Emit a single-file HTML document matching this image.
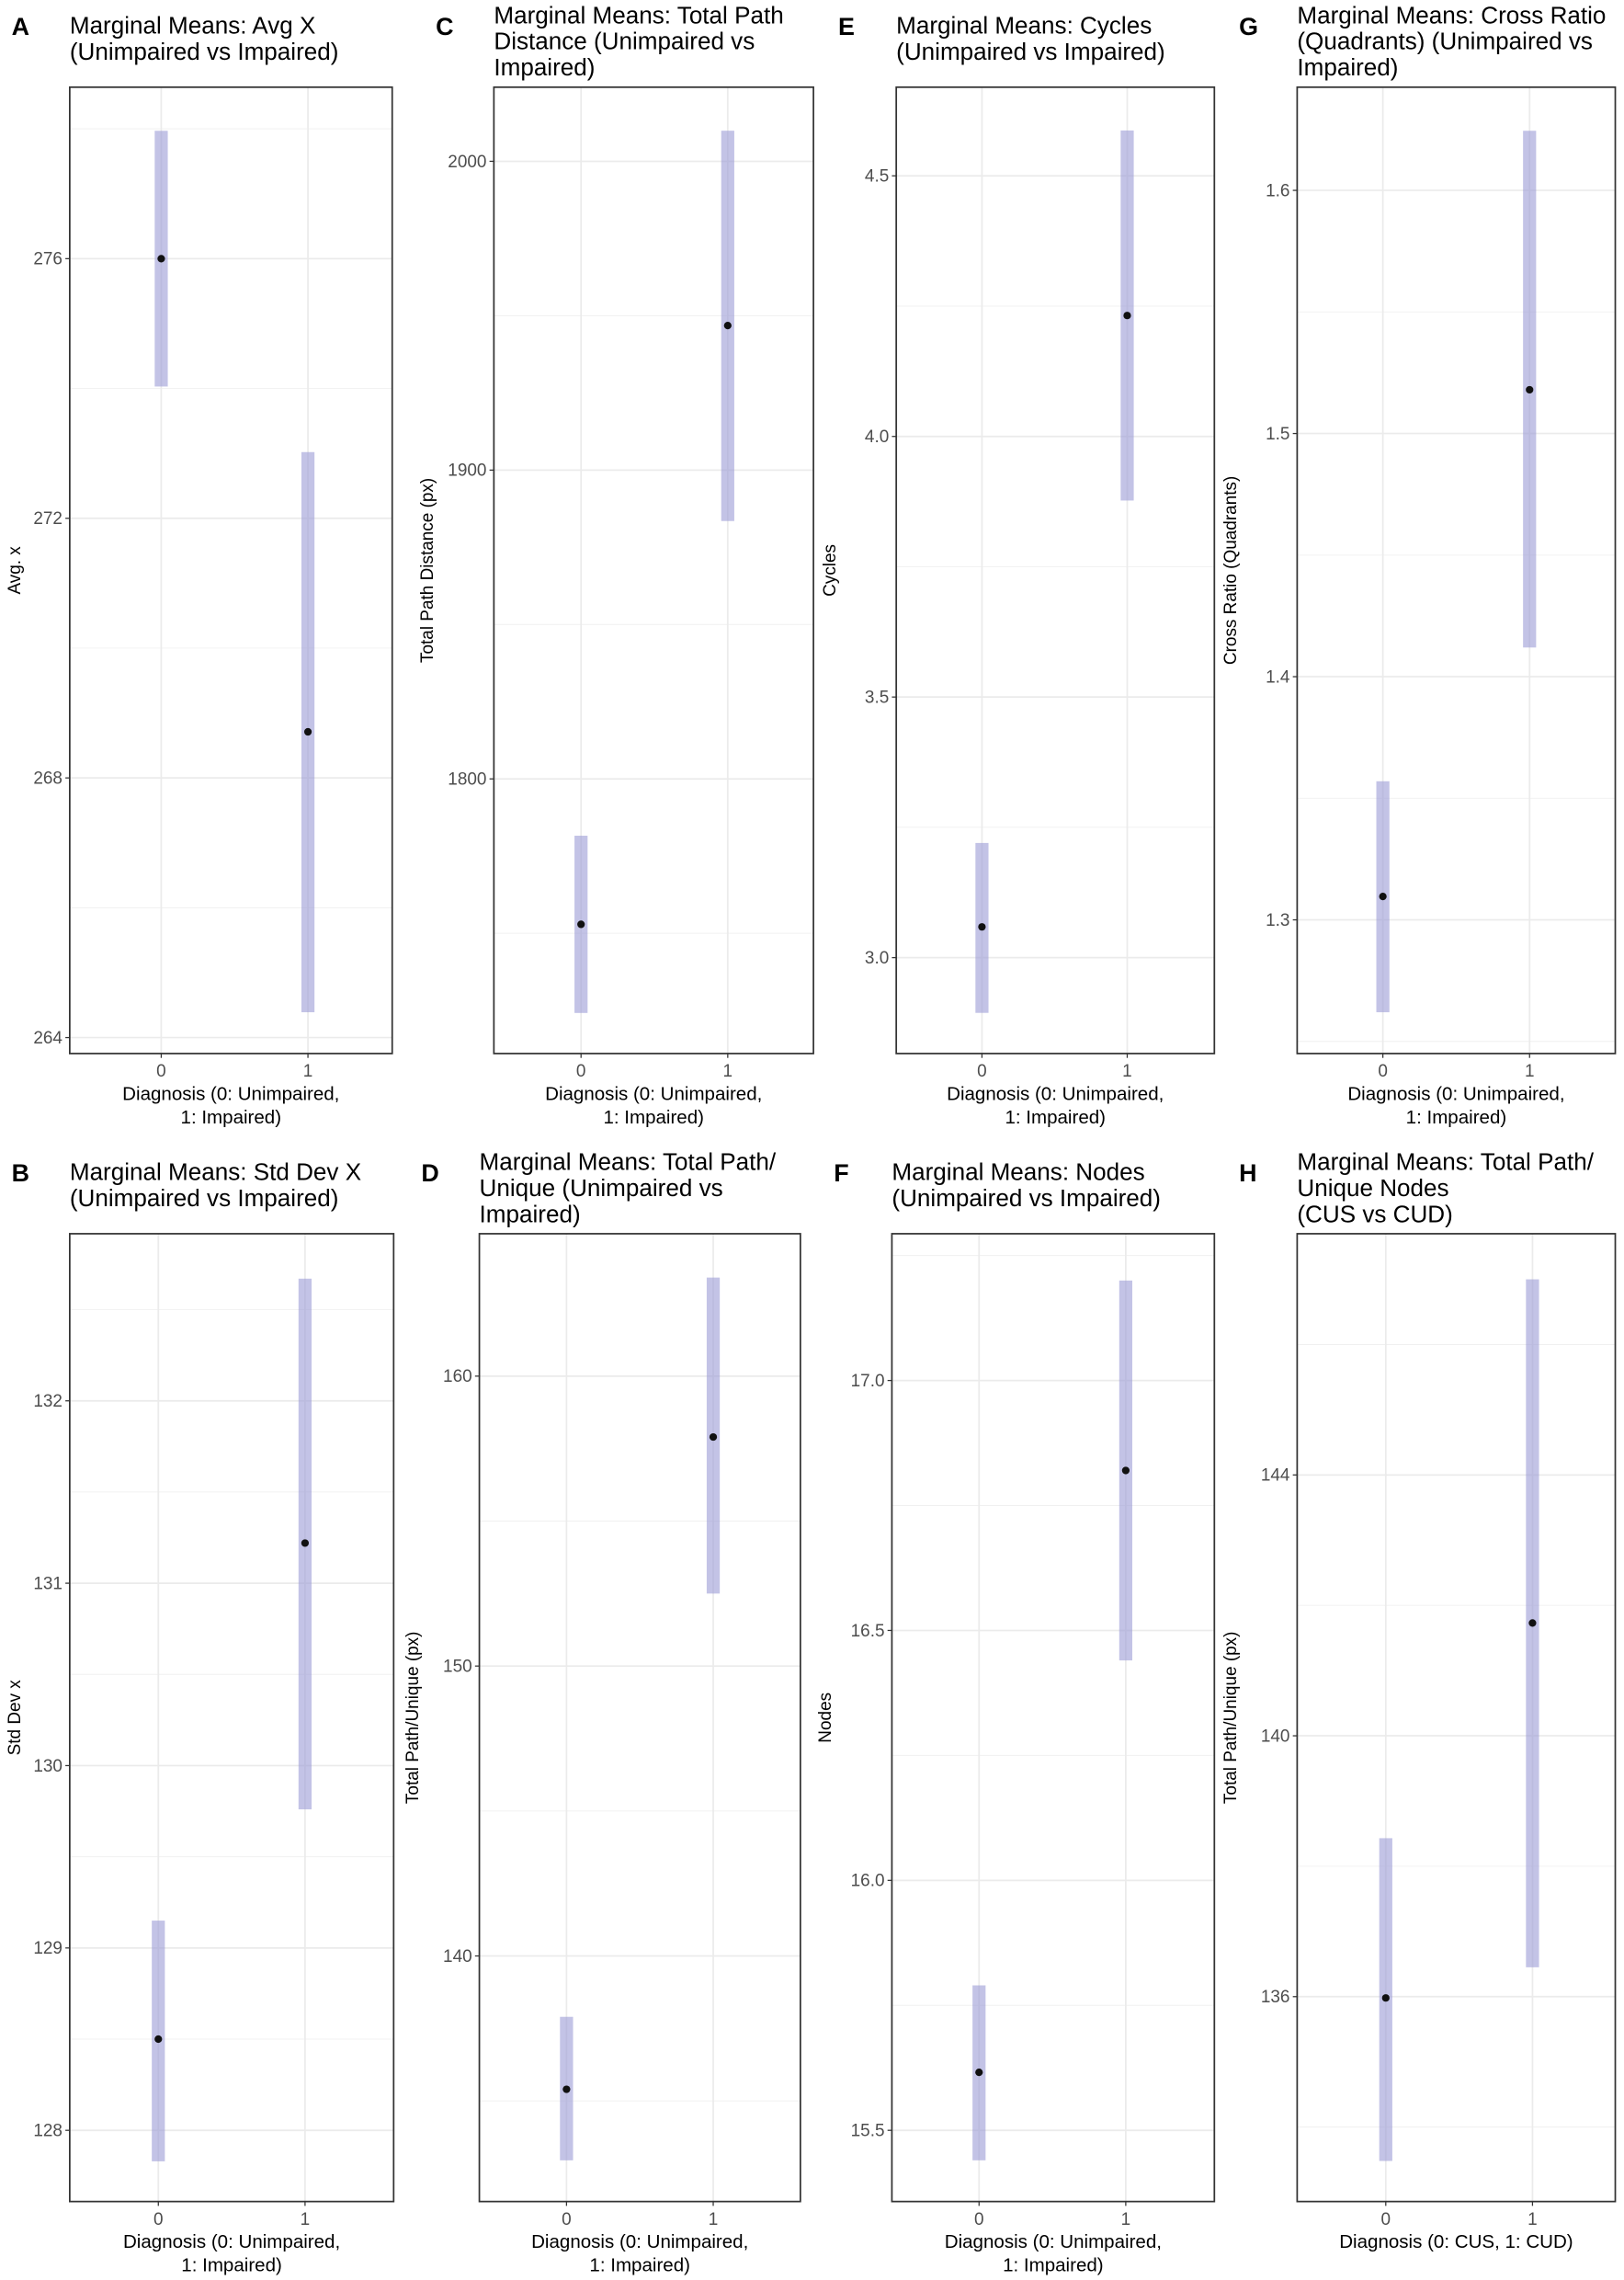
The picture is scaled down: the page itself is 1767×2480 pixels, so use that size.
<!DOCTYPE html>
<html><head><meta charset="utf-8"><style>
html,body{margin:0;padding:0;background:#fff;}
svg{display:block;font-family:"Liberation Sans",Arial,sans-serif;}
</style></head>
<body>
<svg id="fig" width="1767" height="2480" viewBox="0 0 1118 1569" preserveAspectRatio="none" xmlns="http://www.w3.org/2000/svg"></svg>
<script>
// ---- data ----
const categories = ["0", "1"];
const meanA = [276.0, 268.71];  const lowA = [274.03, 264.39]; const highA = [277.97, 273.02];
const ticksA = [264, 268, 272, 276];
const meanB = [128.50, 131.22]; const lowB = [127.83, 129.76]; const highB = [129.15, 132.67];
const ticksB = [128, 129, 130, 131, 132];
const meanC = [1752.9, 1946.8]; const lowC = [1724.2, 1883.5]; const highC = [1781.6, 2009.9];
const ticksC = [1800, 1900, 2000];
const meanD = [135.4, 157.9];   const lowD = [132.95, 152.5];  const highD = [137.9, 163.4];
const ticksD = [140, 150, 160];
const meanE = [3.059, 4.232];   const lowE = [2.894, 3.877];   const highE = [3.22, 4.587];
const ticksE = [3.0, 3.5, 4.0, 4.5];
const meanF = [15.616, 16.82];  const lowF = [15.44, 16.44];   const highF = [15.79, 17.20];
const ticksF = [15.5, 16.0, 16.5, 17.0];
const meanG = [1.3096, 1.518];  const lowG = [1.262, 1.412];   const highG = [1.357, 1.6245];
const ticksG = [1.3, 1.4, 1.5, 1.6];
const meanH = [135.98, 141.73]; const lowH = [133.48, 136.45]; const highH = [138.43, 147.0];
const ticksH = [136, 140, 144];

const NS = "http://www.w3.org/2000/svg";
const svg = document.getElementById('fig');
function mk(tag, attrs, parent, text){
  const e = document.createElementNS(NS, tag);
  for (const k in attrs) e.setAttribute(k, attrs[k]);
  if (text !== undefined) e.textContent = text;
  (parent || svg).appendChild(e);
  return e;
}

const panels = [
  {id:'a', letter:'A', title:['Marginal Means: Avg X','(Unimpaired vs Impaired)'], ylab:'Avg. x', xlab:['Diagnosis (0: Unimpaired,','1: Impaired)'],
   mean:meanA, low:lowA, high:highA, ticks:ticksA, dec:0, box:[48,60,270,725], ty:[276,178,264,714], x0:111, x1:212},
  {id:'c', letter:'C', title:['Marginal Means: Total Path','Distance (Unimpaired vs','Impaired)'], ylab:'Total Path Distance (px)', xlab:['Diagnosis (0: Unimpaired,','1: Impaired)'],
   mean:meanC, low:lowC, high:highC, ticks:ticksC, dec:0, box:[340,60,560,725], ty:[2000,111,1800,536], x0:400, x1:501},
  {id:'e', letter:'E', title:['Marginal Means: Cycles','(Unimpaired vs Impaired)'], ylab:'Cycles', xlab:['Diagnosis (0: Unimpaired,','1: Impaired)'],
   mean:meanE, low:lowE, high:highE, ticks:ticksE, dec:1, box:[617,60,836,725], ty:[4.5,121,3.0,659], x0:676, x1:776},
  {id:'g', letter:'G', title:['Marginal Means: Cross Ratio','(Quadrants) (Unimpaired vs','Impaired)'], ylab:'Cross Ratio (Quadrants)', xlab:['Diagnosis (0: Unimpaired,','1: Impaired)'],
   mean:meanG, low:lowG, high:highG, ticks:ticksG, dec:1, box:[893,60,1112,725], ty:[1.6,131,1.3,633], x0:952, x1:1053},
  {id:'b', letter:'B', title:['Marginal Means: Std Dev X','(Unimpaired vs Impaired)'], ylab:'Std Dev x', xlab:['Diagnosis (0: Unimpaired,','1: Impaired)'],
   mean:meanB, low:lowB, high:highB, ticks:ticksB, dec:0, box:[48,849,271,1515], ty:[132,964,128,1466], x0:109, x1:210},
  {id:'d', letter:'D', title:['Marginal Means: Total Path/','Unique (Unimpaired vs','Impaired)'], ylab:'Total Path/Unique (px)', xlab:['Diagnosis (0: Unimpaired,','1: Impaired)'],
   mean:meanD, low:lowD, high:highD, ticks:ticksD, dec:0, box:[330,849,551,1515], ty:[160,947,140,1346], x0:390, x1:491},
  {id:'f', letter:'F', title:['Marginal Means: Nodes','(Unimpaired vs Impaired)'], ylab:'Nodes', xlab:['Diagnosis (0: Unimpaired,','1: Impaired)'],
   mean:meanF, low:lowF, high:highF, ticks:ticksF, dec:1, box:[614,849,836,1515], ty:[17.0,950,15.5,1466], x0:674, x1:775},
  {id:'h', letter:'H', title:['Marginal Means: Total Path/','Unique Nodes','(CUS vs CUD)'], ylab:'Total Path/Unique (px)', xlab:['Diagnosis (0: CUS, 1: CUD)'],
   mean:meanH, low:lowH, high:highH, ticks:ticksH, dec:0, box:[893,849,1112,1515], ty:[144,1015,136,1374], x0:954, x1:1055}
];

panels.forEach(p => {
  const g = mk('g', {});
  
  
  const [L,T,R,B] = p.box;
  const [v1,y1,v2,y2] = p.ty;
  const yS = v => y1 + (v - v1) * (y2 - y1) / (v2 - v1);
  const xS = i => i === 0 ? p.x0 : p.x1;

  const lt = mk('text', {x:L-40, y:T-36, 'font-size':17, 'font-weight':'bold', fill:'#000'}, g, p.letter);
  
  
  const titleTop = p.title.length === 3 ? T - 44 : T - 37;
  const tt = mk('text', {x:L, y:titleTop, 'font-size':16.5, fill:'#000'}, g);
  
  
  p.title.forEach((ln, i) => mk('tspan', {x:L, y:titleTop + i*18}, tt, ln));

  const step = p.ticks[1] - p.ticks[0];
  const minors = [];
  for (let i = -1; i < p.ticks.length; i++) minors.push(p.ticks[0] + (i + 0.5) * step);
  minors.forEach(v => { const y = yS(v); if (y > T && y < B) {
    const ml = mk('line', {x1:L, x2:R, y1:y, y2:y, stroke:'#f0f0f0', 'stroke-width':0.6}, g);
    
    
  }});
  p.ticks.forEach(v => {
    const y = yS(v);
    const gl = mk('line', {x1:L, x2:R, y1:y, y2:y, stroke:'#ebebeb', 'stroke-width':1.1}, g);
    
    
    const tk = mk('line', {x1:L-3, x2:L, y1:y, y2:y, stroke:'#333', 'stroke-width':0.8}, g);
    
    
    const tl = mk('text', {x:L-5, y:y+4, 'font-size':12, fill:'#4d4d4d', 'text-anchor':'end'}, g, v.toFixed(p.dec));
    
    
  });
  categories.forEach((c, i) => {
    const x = xS(i);
    const vl = mk('line', {x1:x, x2:x, y1:T, y2:B, stroke:'#ebebeb', 'stroke-width':1.1}, g);
    
    
    const tk = mk('line', {x1:x, x2:x, y1:B, y2:B+3, stroke:'#333', 'stroke-width':0.8}, g);
    
    
    const xl = mk('text', {x:x, y:B+16, 'font-size':12, fill:'#4d4d4d', 'text-anchor':'middle'}, g, c);
    
    
  });
  categories.forEach((c, i) => {
    const x = xS(i);
    const yt = yS(p.high[i]), yb = yS(p.low[i]);
    const r = mk('rect', {x:x-4.5, y:yt, width:9, height:yb-yt, fill:'#9b9bd6', 'fill-opacity':0.6}, g);
    
    
    const pt = mk('circle', {cx:x, cy:yS(p.mean[i]), r:2.6, fill:'#111'}, g);
    
    
  });
  const bx = mk('rect', {x:L, y:T, width:R-L, height:B-T, fill:'none', stroke:'#333', 'stroke-width':1.1}, g);
  
  
  const xt = mk('text', {x:(L+R)/2, y:B+32, 'font-size':13, fill:'#000', 'text-anchor':'middle'}, g);
  
  
  p.xlab.forEach((ln, i) => mk('tspan', {x:(L+R)/2, y:B+32+i*16}, xt, ln));
  const yl = mk('text', {x:0, y:0, 'font-size':12, fill:'#000', 'text-anchor':'middle',
    transform:`translate(${p.id==='a'||p.id==='b'?14:L-42},${(T+B)/2}) rotate(-90)`}, g, p.ylab);
  
  
});
</script>
</body></html>
